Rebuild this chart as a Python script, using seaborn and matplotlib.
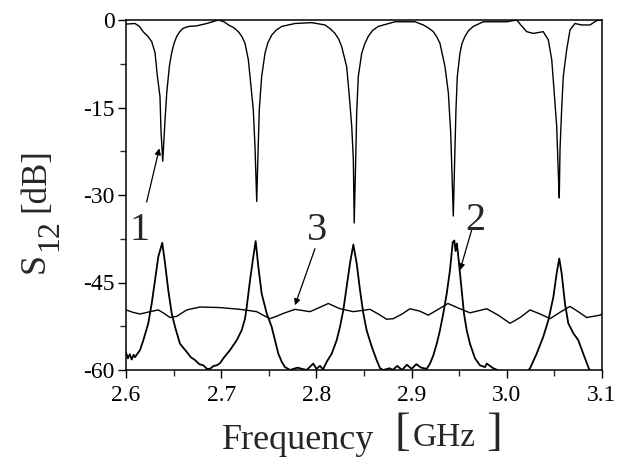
import matplotlib
matplotlib.use("Agg")
import matplotlib.pyplot as plt
from matplotlib.ticker import MultipleLocator
import pandas as pd
import seaborn as sns

# curve 1: transmission with the five dips
freq1 = [2.600, 2.6095, 2.614, 2.618, 2.623, 2.627, 2.6305, 2.633, 2.6357, 2.6368,
         2.6386, 2.641, 2.6428, 2.6455, 2.648, 2.6505, 2.6533, 2.6565, 2.6602, 2.666,
         2.6743, 2.6848, 2.697, 2.703, 2.7076, 2.713, 2.718, 2.722, 2.725, 2.7285,
         2.7313, 2.7337, 2.7355, 2.7373, 2.7383, 2.740, 2.7425, 2.746, 2.749, 2.753,
         2.758, 2.7636, 2.7775, 2.795, 2.809, 2.8145, 2.8195, 2.8235, 2.8266, 2.8318,
         2.8346, 2.8371, 2.8388, 2.8397, 2.8413, 2.8423, 2.844, 2.8476, 2.851, 2.8545,
         2.859, 2.865, 2.8826, 2.9036, 2.9123, 2.918, 2.9228, 2.9265, 2.9298, 2.9351,
         2.9386, 2.9411, 2.9438, 2.9456, 2.9466, 2.948, 2.9508, 2.953, 2.9561, 2.960,
         2.9648, 2.9753, 2.9999, 3.0104, 3.0155, 3.0209, 3.0278, 3.0383, 3.0436, 3.0472,
         3.0496, 3.0524, 3.0541, 3.0551, 3.0559, 3.0576, 3.0593, 3.0629, 3.0664, 3.0716,
         3.0786, 3.0874, 3.0944, 3.100]
s12_1 = [-0.7, -0.6, -1.1, -2.0, -2.8, -3.7, -5.6, -9.7, -13.1, -19.1,
         -24.2, -17.1, -12.5, -8.0, -5.6, -4.0, -2.8, -2.0, -1.4, -1.1,
         -1.0, -0.6, 0.0, -0.3, -0.85, -1.3, -2.0, -2.9, -4.0, -6.8,
         -11.4, -15.4, -21.7, -31.1, -25.0, -15.4, -9.7, -5.7, -3.9, -2.6,
         -1.7, -1.1, -0.6, -0.45, -0.85, -1.5, -2.3, -3.3, -4.6, -8.0,
         -13.1, -18.2, -23.9, -34.8, -23.9, -16.0, -9.7, -5.7, -4.0, -2.8,
         -1.8, -1.1, -0.3, -0.3, -0.85, -1.4, -2.0, -2.9, -4.0, -8.0,
         -12.5, -19.4, -33.6, -21.7, -15.4, -9.7, -5.7, -4.0, -2.8, -1.8,
         -1.1, -0.3, -0.3, 0.0, -1.0, -2.0, -2.3, -2.0, -3.4, -6.8,
         -12.0, -18.2, -26.2, -30.5, -22.2, -15.4, -9.7, -5.1, -1.7, -0.6,
         -0.85, -0.85, -0.1, 0.0]

# curve 2: peaks at the same frequencies
freq2 = [2.600, 2.602, 2.604, 2.606, 2.608, 2.6095, 2.612, 2.6147, 2.6182, 2.6234,
         2.627, 2.6305, 2.6339, 2.6381, 2.641, 2.6444, 2.648, 2.6515, 2.6567, 2.6638,
         2.668, 2.6725, 2.677, 2.6812, 2.685, 2.6882, 2.692, 2.6953, 2.699, 2.7022,
         2.7092, 2.7163, 2.7215, 2.725, 2.7268, 2.7303, 2.7337, 2.7362, 2.739, 2.7425,
         2.7478, 2.753, 2.7565, 2.760, 2.7636, 2.767, 2.7723, 2.780, 2.7898, 2.7967,
         2.800, 2.8038, 2.807, 2.8108, 2.8161, 2.8213, 2.8248, 2.8283, 2.8318, 2.8353,
         2.8388, 2.8423, 2.8458, 2.8493, 2.8528, 2.8581, 2.8633, 2.8668, 2.8703, 2.877,
         2.880, 2.885, 2.890, 2.895, 2.900, 2.905, 2.910, 2.9159, 2.9193, 2.9228,
         2.9264, 2.9298, 2.9333, 2.9369, 2.9403, 2.9432, 2.9449, 2.9462, 2.9476, 2.9491,
         2.9526, 2.955, 2.9579, 2.9613, 2.9666, 2.9718, 2.9771, 2.9789, 2.9858, 2.9929,
         3.005, 3.015, 3.0244, 3.0314, 3.0383, 3.0436, 3.0489, 3.0524, 3.0551, 3.0576,
         3.0611, 3.0646, 3.0699, 3.0751, 3.0803, 3.0856, 3.0874, 3.100]
s12_2 = [-57.0, -58.0, -57.3, -58.2, -57.4, -57.8, -57.2, -56.6, -54.9, -52.0,
         -48.6, -44.6, -40.6, -38.2, -41.7, -46.3, -50.3, -52.6, -55.5, -56.9,
         -57.8, -58.3, -59.0, -59.2, -59.8, -59.8, -59.3, -59.2, -58.8, -58.0,
         -56.6, -54.9, -53.2, -51.2, -49.2, -44.6, -40.6, -37.9, -42.3, -46.9,
         -50.3, -52.6, -54.9, -57.2, -58.6, -59.5, -60.0, -59.6, -60.0, -58.9,
         -59.8, -59.3, -59.9, -58.6, -57.2, -54.9, -52.6, -49.7, -45.7, -41.7,
         -38.5, -41.7, -46.3, -50.3, -53.2, -56.0, -58.3, -59.7, -60.0, -59.7,
         -60.0, -59.3, -60.0, -59.1, -59.8, -59.0, -59.6, -59.8, -58.9, -57.5,
         -55.5, -53.2, -50.3, -46.9, -42.9, -38.1, -37.8, -39.6, -38.3, -40.6,
         -46.3, -50.3, -53.2, -55.5, -58.0, -59.2, -59.5, -58.9, -59.7, -60.2,
         -61.5, -61.5, -59.7, -57.2, -54.3, -51.5, -47.5, -43.4, -40.9, -43.4,
         -48.6, -52.0, -53.7, -54.9, -57.2, -59.5, -60.2, -62.0]

# curve 3: flat background around -50 dB
freq3 = [2.600, 2.607, 2.6147, 2.620, 2.6252, 2.634, 2.640, 2.6462, 2.6533, 2.659,
         2.6638, 2.6777, 2.6987, 2.7197, 2.729, 2.7373, 2.744, 2.7513, 2.758, 2.7652,
         2.7775, 2.7933, 2.803, 2.8125, 2.8248, 2.8388, 2.8563, 2.865, 2.8738, 2.8808,
         2.890, 2.8983, 2.9085, 2.9175, 2.928, 2.9382, 2.9508, 2.9613, 2.9789, 2.991,
         3.0034, 3.014, 3.0244, 3.035, 3.0454, 3.056, 3.0664, 3.075, 3.0839, 3.0979,
         3.100]
s12_3 = [-49.7, -50.1, -50.4, -50.2, -50.0, -49.7, -50.3, -51.0, -50.8, -50.2,
         -49.7, -49.2, -49.3, -49.6, -49.8, -50.0, -50.6, -51.2, -50.8, -50.3,
         -49.6, -50.0, -49.3, -48.6, -49.5, -50.0, -49.6, -50.4, -51.3, -51.2,
         -50.4, -49.5, -49.9, -50.6, -49.6, -48.6, -49.5, -50.2, -49.5, -50.6,
         -52.0, -51.0, -49.7, -50.4, -51.2, -50.1, -49.1, -50.0, -51.0, -50.6,
         -50.4]

xticks = [2.6, 2.7, 2.8, 2.9, 3.0, 3.1]
yticks = [0, -15, -30, -45, -60]

sns.set_style("ticks")
plt.rcParams["font.family"] = ["Liberation Serif", "DejaVu Serif"]
plt.rcParams["axes.unicode_minus"] = False

W, H = 626, 462
fig = plt.figure(figsize=(W / 100, H / 100), dpi=100)
ax = fig.add_axes([126 / W, 1 - 370 / H, 476 / W, 350 / H])

for f, s, lw in [(freq1, s12_1, 1.0), (freq2, s12_2, 1.3), (freq3, s12_3, 1.0)]:
    df = pd.DataFrame({"f": f, "s": s})
    sns.lineplot(data=df, x="f", y="s", ax=ax, color="black", lw=lw, sort=False)

ax.set_xlim(2.6, 3.1)
ax.set_ylim(-60, 0)
ax.set_xticks(xticks)
ax.set_xticklabels([f"{t:.1f}" for t in xticks])
ax.set_yticks(yticks)
ax.set_yticklabels([str(t) for t in yticks])
ax.xaxis.set_minor_locator(MultipleLocator(0.05))
ax.yaxis.set_minor_locator(MultipleLocator(7.5))
ax.tick_params(which="major", direction="out", length=6, width=1, labelsize=17,
               pad=2, colors="black")
ax.tick_params(axis="x", which="major", pad=5)
ax.tick_params(which="minor", direction="out", length=4, width=1)
ax.set_xlabel("")
ax.set_ylabel("")
for sp in ax.spines.values():
    sp.set_visible(True)
    sp.set_linewidth(1.1)
    sp.set_color("black")

# curve labels with arrows
arrow = dict(arrowstyle="-|>", lw=0.9, color="black", mutation_scale=9,
             shrinkA=0, shrinkB=0)
ax.annotate("", xy=(2.635, -22.0), xytext=(2.6217, -31.2), arrowprops=arrow)
ax.annotate("", xy=(2.7775, -48.9), xytext=(2.7985, -39.2), arrowprops=arrow)
ax.annotate("", xy=(2.9508, -42.9), xytext=(2.9631, -36.0), arrowprops=arrow)
ax.text(2.6147, -37.7, "1", fontsize=29, ha="center", va="baseline")
ax.text(2.8006, -37.7, "3", fontsize=29, ha="center", va="baseline")
ax.text(2.9666, -36.0, "2", fontsize=29, ha="center", va="baseline")

# axis titles, built in pieces to get the big brackets and the subscript
def px(x, y):
    return x / W, 1 - y / H

fig.text(*px(298, 449), "Frequency", fontsize=26, ha="center", va="baseline")
fig.text(*px(394, 434), "[", fontsize=34, ha="left", va="center")
fig.text(*px(413, 446), "GHz", fontsize=24, ha="left", va="baseline")
fig.text(*px(486, 434), "]", fontsize=34, ha="left", va="center")

rot = dict(rotation=90, rotation_mode="anchor", ha="left", va="baseline")
fig.text(*px(44, 273), "S", fontsize=26, **rot)
fig.text(*px(57, 251), "12", fontsize=23, **rot)
fig.text(*px(44, 212), "[dB]", fontsize=25, **rot)

fig.savefig("out.png", dpi=100)
